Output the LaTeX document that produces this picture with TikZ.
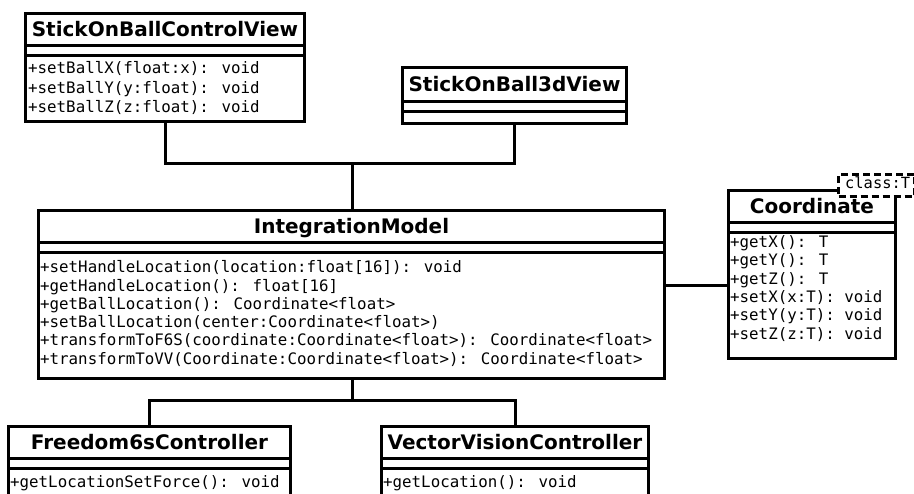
\documentclass[tikz,border=0pt]{standalone}
\usepackage{fontspec}
\setmainfont{DejaVu Sans}
\newfontfamily\umlmono{DejaVu Sans Mono}
\usetikzlibrary{calc}

\tikzset{
  umlline/.style={line width=3pt},
  classbox/.style={draw, line width=3pt, fill=white, inner sep=0pt, anchor=north west},
  classtitle/.style={font=\bfseries\fontsize{20}{24}\selectfont, anchor=base, inner sep=0pt},
  members/.style={font=\umlmono\fontsize{15.8}{18.3}\selectfont, align=left,
                  anchor=north west, inner sep=0pt},
  tplbox/.style={draw, line width=3pt, dash pattern=on 7pt off 4pt, fill=white,
                 inner sep=0pt, anchor=north west},
  tpltext/.style={font=\umlmono\fontsize{15.4}{18}\selectfont, anchor=base west, inner sep=0pt},
}

% name, x, y, width, height, title-section height, title
\newcommand\umlclass[7]{%
  \node[classbox, minimum width=#4pt, minimum height=#5pt] (#1) at (#2,#3) {};
  \node[classtitle] (#1-title) at ($(#1.north)+(0,#6/2+7.3)$) {#7};
  \draw[umlline] ($(#1.north west)+(0,#6)$) -- ($(#1.north east)+(0,#6)$);
  \draw[umlline] ($(#1.north west)+(0,#6+10)$) -- ($(#1.north east)+(0,#6+10)$);
}

\begin{document}
\begin{tikzpicture}[x=1pt, y=-1pt]
  \useasboundingbox (0,0) rectangle (914,494);

  % classes
  \umlclass{sobcv}{24}{12}{279}{108}{34}{StickOnBallControlView}
  \node[members, font=\umlmono\fontsize{15.8}{19.4}\selectfont] (sobcv-ops)
    at ($(sobcv.north west)+(4,49.5)$)
    {+setBallX(float:x): void\\+setBallY(y:float): void\\+setBallZ(z:float): void};

  \umlclass{sob3d}{401}{66}{224}{56}{36}{StickOnBall3dView}

  \umlclass{im}{37}{209}{626}{168}{34}{IntegrationModel}
  \node[members] (im-ops) at ($(im.north west)+(3,51.5)$)
    {+setHandleLocation(location:float[16]): void\\
     +getHandleLocation(): float[16]\\
     +getBallLocation(): Coordinate<float>\\
     +setBallLocation(center:Coordinate<float>)\\
     +transformToF6S(coordinate:Coordinate<float>): Coordinate<float>\\
     +transformToVV(Coordinate:Coordinate<float>): Coordinate<float>};

  \umlclass{coord}{727}{189}{167}{168}{34}{Coordinate}
  \node[members] (coord-ops) at ($(coord.north west)+(3,46.5)$)
    {+getX(): T\\+getY(): T\\+getZ(): T\\+setX(x:T): void\\+setY(y:T): void\\+setZ(z:T): void};
  % template parameter box on the class corner
  \node[tplbox, minimum width=76pt, minimum height=22pt] (coord-tpl) at (837,173) {};
  \node[tpltext] (coord-tpltext) at (845,188.5) {class:T};

  \umlclass{freedom}{7}{425}{282}{72}{34}{Freedom6sController}
  \node[members] (freedom-ops) at ($(freedom.north west)+(3,50.5)$)
    {+getLocationSetForce(): void};

  \umlclass{vector}{380}{425}{267}{72}{34}{VectorVisionController}
  \node[members] (vector-ops) at ($(vector.north west)+(3,50.5)$)
    {+getLocation(): void};

  % connectors
  \coordinate (jtop) at (352,164);
  \draw[umlline] (sobcv.south) |- (jtop) -| (sob3d.south);
  \draw[umlline] (jtop) -- (jtop |- im.north);

  \coordinate (jbot) at (352,401);
  \draw[umlline] (jbot |- im.south) -- (jbot);
  \draw[umlline] (freedom.north) |- (jbot) -| (vector.north);

  \coordinate (jright) at (700,286);
  \draw[umlline] (jright -| im.east) -- (jright -| coord.west);
\end{tikzpicture}
\end{document}
